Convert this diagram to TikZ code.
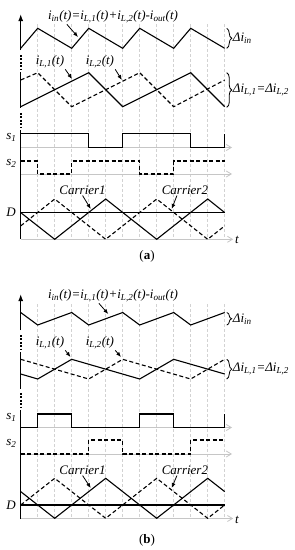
\documentclass[tikz,border=0pt]{standalone}
\usepackage{fontspec}
\setmainfont{Liberation Serif}
\usetikzlibrary{arrows.meta, positioning, decorations.pathreplacing}

\begin{document}
\begin{tikzpicture}[
    x=17pt, y=-1pt,
    font=\fontsize{13}{15}\selectfont\itshape,
    wave/.style={line width=1.1pt, line join=miter},
    dwave/.style={wave, dash pattern=on 4pt off 2.5pt},
    grid/.style={gray!35, line width=0.6pt, dash pattern=on 3pt off 2pt},
    taxis/.style={gray!45, line width=0.8pt, -{Straight Barb[length=5pt, width=6pt]}},
    vaxis/.style={line width=1.3pt},
    brk/.style={line width=2pt, dash pattern=on 1.8pt off 1.6pt},
    pointer/.style={-{Latex[length=5pt, width=4pt]}, line width=0.8pt},
    brace/.style={decorate, decoration={brace, amplitude=5pt}, line width=0.8pt},
    lbl/.style={inner sep=1pt},
    caption/.style={font=\fontsize{13}{15}\selectfont\upshape}
]
\useasboundingbox (-1.218,0) rectangle (16.135,550);

%% ---------------- panel (a) ----------------
\foreach \k in {1,...,12} \draw[grid] (\k,24) -- (\k,239.3);
\draw[taxis] (0,147.5) -- (12.43,147.5);
\draw[taxis] (0,174) -- (12.43,174);
\draw[taxis] (0,239.3) -- (12.5,239.3);
% vertical axis with breaks
\draw[vaxis, -{Latex[length=7pt, width=5pt]}] (0,50) -- (0,14);
\draw[brk] (0,55) -- (0,69);
\draw[vaxis] (0,72) -- (0,108);
\draw[brk] (0,113) -- (0,127);
\draw[vaxis] (0,130) -- (0,239.3);
% currents
\draw[wave] (0,48.3) -- (1,28.3) -- (3,48.3) -- (4,28.3) -- (6,48.3) -- (7,28.3) -- (9,48.3) -- (10,28.3) -- (12,48.3);
\draw[wave] (0,106.7) -- (4,72.7) -- (6,106.7) -- (10,72.7) -- (12,106.7);
\draw[dwave] (0,80) -- (1,72.7) -- (3,106.7) -- (7,72.7) -- (9,106.7) -- (12,80);
% gate signals
\draw[wave] (0,133.5) -| (4,147.5) -| (6,133.5) -| (10,147.5) -| (12,133.5);
\draw[dwave] (0,161) -| (1,174) -| (3,161) -| (7,174) -| (9,161) -- (12,161);
% duty and carriers
\draw[wave] (0,212.6) -- (12,212.6);
\draw[wave] (0,212.6) -- (2,239.3) -- (5,199) -- (8,239.3) -- (11,199) -- (12,212.6);
\draw[dwave] (0,225.9) -- (2,199) -- (5,239.3) -- (8,199) -- (11,239.3) -- (12,225.9);

\node[lbl] (iinA) at (5.43,17) {i\textsubscript{in}(t)=i\textsubscript{L,1}(t)+i\textsubscript{L,2}(t)-i\textsubscript{out}(t)};
\coordinate (iinAtip) at (3.37,37);
\draw[pointer] ([xshift=20pt]iinA.south west) -- (iinAtip);

\node[lbl] (iL1A) at (1.72,62) {i\textsubscript{L,1}(t)};
\coordinate (iL1Atip) at (3.02,79);
\draw[pointer] (iL1A.south east) -- (iL1Atip);
\node[lbl] (iL2A) at (4.66,62) {i\textsubscript{L,2}(t)};
\coordinate (iL2Atip) at (5.95,80);
\draw[pointer] (iL2A.south east) -- (iL2Atip);

\draw[brace] (12.12,28.3) -- coordinate (dinA) (12.12,48.3);
\node[lbl, right=5pt of dinA] (dinAlbl) {Δi\textsubscript{in}};
\draw[brace] (12.12,72.7) -- coordinate (dilA) (12.12,107.3);
\node[lbl, right=5pt of dilA] (dilAlbl) {Δi\textsubscript{L,1}=Δi\textsubscript{L,2}};

\node[lbl] (s1A) at (-0.55,137.5) {s\textsubscript{1}};
\node[lbl] (s2A) at (-0.55,163.5) {s\textsubscript{2}};
\node[lbl] (dA) at (-0.57,212.6) {D};
\node[lbl] (tA) at (12.72,240) {t};

\node[lbl] (car1A) at (3.64,190) {Carrier1};
\coordinate (car1Atip) at (4.12,209);
\draw[pointer] (car1A.south) -- (car1Atip);
\node[lbl] (car2A) at (9.66,190) {Carrier2};
\coordinate (car2Atip) at (8.88,209);
\draw[pointer] ([xshift=-8pt]car2A.south) -- (car2Atip);

\node[caption] (capA) at (7.43,256.7) {(\textbf{a})};

%% ---------------- panel (b) ----------------
\foreach \k in {1,...,12} \draw[grid] (\k,304) -- (\k,518.5);
\draw[taxis] (0,427.5) -- (12.43,427.5);
\draw[taxis] (0,454) -- (12.43,454);
\draw[taxis] (0,518.5) -- (12.5,518.5);
% vertical axis with breaks
\draw[vaxis, -{Latex[length=7pt, width=5pt]}] (0,330) -- (0,294);
\draw[brk] (0,335) -- (0,349);
\draw[vaxis] (0,352) -- (0,389);
\draw[brk] (0,393) -- (0,407);
\draw[vaxis] (0,410) -- (0,518.5);
% currents
\draw[wave] (0,312.5) -- (1,325) -- (3,312.5) -- (4,325) -- (6,312.5) -- (7,325) -- (9,312.5) -- (10,325) -- (12,312.5);
\draw[wave] (0,374) -- (1,379) -- (3,359.3) -- (7,379) -- (9,359.3) -- (12,374);
\draw[dwave] (0,359.3) -- (4,379) -- (6,359.3) -- (10,379) -- (12,359.3);
% gate signals
\draw[wave] (0,427.5) -| (1,414) -| (3,427.5) -| (7,414) -| (9,427.5) -| (12,414);
\draw[dwave] (0,454) -| (4,440) -| (6,454) -| (10,440) -- (12,440);
% duty and carriers
\draw[wave] (0,505) -- (12,505);
\draw[wave] (0,491.6) -- (2,518.3) -- (5,478.3) -- (8,518.3) -- (11,478.3) -- (12,491.6);
\draw[dwave] (0,505) -- (2,478.3) -- (5,518.3) -- (8,478.3) -- (11,518.3) -- (12,505);

\node[lbl] (iinB) at (5.43,296) {i\textsubscript{in}(t)=i\textsubscript{L,1}(t)+i\textsubscript{L,2}(t)-i\textsubscript{out}(t)};
\coordinate (iinBtip) at (5.15,314);
\draw[pointer] ([xshift=52pt]iinB.south west) -- (iinBtip);

\node[lbl] (iL1B) at (1.72,343) {i\textsubscript{L,1}(t)};
\coordinate (iL1Btip) at (2.93,357);
\draw[pointer] (iL1B.south east) -- (iL1Btip);
\node[lbl] (iL2B) at (4.66,343) {i\textsubscript{L,2}(t)};
\coordinate (iL2Btip) at (5.9,357);
\draw[pointer] (iL2B.south east) -- (iL2Btip);

\draw[brace] (12.12,312.5) -- coordinate (dinB) (12.12,325);
\node[lbl, right=5pt of dinB] (dinBlbl) {Δi\textsubscript{in}};
\draw[brace] (12.12,359.3) -- coordinate (dilB) (12.12,379);
\node[lbl, right=5pt of dilB] (dilBlbl) {Δi\textsubscript{L,1}=Δi\textsubscript{L,2}};

\node[lbl] (s1B) at (-0.55,417) {s\textsubscript{1}};
\node[lbl] (s2B) at (-0.55,443.5) {s\textsubscript{2}};
\node[lbl] (dB) at (-0.57,505) {D};
\node[lbl] (tB) at (12.72,519.5) {t};

\node[lbl] (car1B) at (3.64,470) {Carrier1};
\coordinate (car1Btip) at (4.12,488);
\draw[pointer] (car1B.south) -- (car1Btip);
\node[lbl] (car2B) at (9.66,470) {Carrier2};
\coordinate (car2Btip) at (8.88,488);
\draw[pointer] ([xshift=-8pt]car2B.south) -- (car2Btip);

\node[caption] (capB) at (7.43,540) {(\textbf{b})};
\end{tikzpicture}
\end{document}
